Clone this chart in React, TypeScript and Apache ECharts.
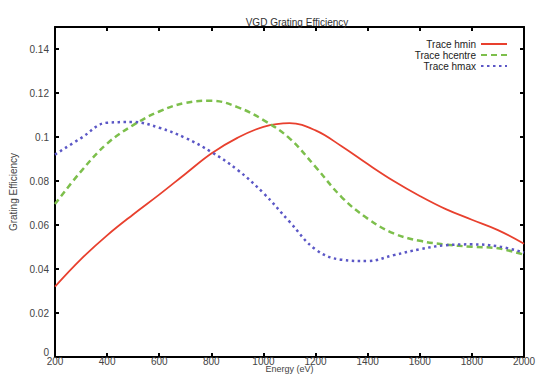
import React, { useEffect, useRef } from "react";
import * as echarts from "echarts";

const energy = [200, 300, 400, 500, 600, 700, 800, 900, 1000, 1100, 1200, 1300, 1400, 1500, 1600, 1700, 1800, 1900, 2000];
const hmin = [0.032, 0.0445, 0.0553, 0.0648, 0.0738, 0.0832, 0.0925, 0.0996, 0.1046, 0.1063, 0.103, 0.0958, 0.0877, 0.080, 0.0732, 0.0672, 0.0624, 0.0577, 0.0515];
const hcentre = [0.0695, 0.0844, 0.097, 0.1054, 0.1116, 0.1155, 0.1165, 0.1136, 0.1077, 0.0994, 0.0864, 0.0727, 0.0629, 0.0562, 0.0528, 0.0511, 0.0501, 0.0494, 0.0465];
const hmax = [0.092, 0.0995, 0.1065, 0.1068, 0.1042, 0.0996, 0.0932, 0.0851, 0.0745, 0.0615, 0.0489, 0.0442, 0.0436, 0.0463, 0.049, 0.0508, 0.0512, 0.0503, 0.0475];
const seriesNames = ["Trace hmin", "Trace hcentre", "Trace hmax"];
const yTicks = [0, 0.02, 0.04, 0.06, 0.08, 0.1, 0.12, 0.14];

const FONT = "Liberation Sans, Arial, sans-serif";

export default function App() {
  const ref = useRef<HTMLDivElement>(null);
  useEffect(() => {
    if (!ref.current) return;
    const chart = echarts.init(ref.current, null, { renderer: "svg" });
    const pair = (ys: number[]) => energy.map((e, i) => [e, ys[i]]);
    const axisLine = { show: true, onZero: false, lineStyle: { color: "#000", width: 2 } };
    const tick = { show: true, inside: true, length: 4, lineStyle: { color: "#000", width: 2 } };
    const legendBase = (name: string, top: number) => ({
      data: [name],
      right: 29,
      top,
      align: "right" as const,
      itemWidth: 26,
      itemHeight: 10,
      itemStyle: { opacity: 0 },
      textStyle: { fontSize: 10, color: "#222", fontFamily: FONT },
      selectedMode: false,
    });
    chart.setOption({
      animation: false,
      backgroundColor: "#fff",
      title: {
        text: "VGD Grating Efficiency",
        left: 292,
        top: 12,
        textAlign: "center",
        textStyle: { fontSize: 10, fontWeight: "normal", color: "#333", fontFamily: FONT },
      },
      legend: [
        legendBase(seriesNames[0], 34),
        legendBase(seriesNames[1], 45),
        legendBase(seriesNames[2], 56),
      ],
      grid: { left: 55, right: 18, top: 27, bottom: 17, outerBoundsMode: "none", containLabel: false },
      xAxis: [
        {
          type: "value",
          min: 200,
          max: 2000,
          interval: 200,
          name: "Energy (eV)",
          nameLocation: "middle",
          nameGap: 8,
          nameMoveOverlap: false,
          nameTextStyle: { fontSize: 9, lineHeight: 8, color: "#444", fontFamily: FONT },
          axisLine,
          axisTick: tick,
          splitLine: { show: false },
          axisLabel: {
            fontSize: 10,
            lineHeight: 7,
            color: "#444",
            margin: 1,
            fontFamily: FONT,
            formatter: (v: number) => String(Math.round(v)),
          },
        },
        {
          type: "value",
          position: "top",
          min: 200,
          max: 2000,
          interval: 200,
          axisLine,
          axisTick: tick,
          splitLine: { show: false },
          axisLabel: { show: false },
        },
      ],
      yAxis: [
        {
          type: "value",
          min: 0,
          max: 0.15,
          interval: 0.02,
          name: "Grating Efficiency",
          nameLocation: "middle",
          nameGap: 31,
          nameTextStyle: { fontSize: 10, color: "#444", fontFamily: FONT },
          axisLine,
          axisTick: tick,
          splitLine: { show: false },
          axisLabel: {
            fontSize: 10,
            color: "#444",
            margin: 6,
            fontFamily: FONT,
            formatter: (v: number) => {
              const t = yTicks.find((y) => Math.abs(y - v) < 1e-6);
              if (t === undefined) return "";
              return t === 0 ? "{z|0}" : String(t);
            },
            rich: {
              z: { fontSize: 10, color: "#444", fontFamily: FONT, padding: [0, 0, 9, 0] },
            },
          },
        },
        {
          type: "value",
          position: "right",
          min: 0,
          max: 0.15,
          interval: 0.02,
          axisLine,
          axisTick: tick,
          splitLine: { show: false },
          axisLabel: { show: false },
        },
      ],
      series: [
        {
          name: seriesNames[0],
          type: "line",
          data: pair(hmin),
          smooth: 0.4,
          symbol: "none",
          lineStyle: { color: "#e8402e", width: 1.8 },
          itemStyle: { color: "#e8402e" },
        },
        {
          name: seriesNames[1],
          type: "line",
          data: pair(hcentre),
          smooth: 0.4,
          symbol: "none",
          lineStyle: { color: "#7dbf4c", width: 2.5, type: [6, 4] },
          itemStyle: { color: "#7dbf4c" },
        },
        {
          name: seriesNames[2],
          type: "line",
          data: pair(hmax),
          smooth: 0.4,
          symbol: "none",
          lineStyle: { color: "#5b57c6", width: 2.5, type: [2.5, 3.5] },
          itemStyle: { color: "#5b57c6" },
        },
      ],
    });
    return () => chart.dispose();
  }, []);
  return (
    <div
      ref={ref}
      style={{ position: "fixed", left: 0, top: 0, width: 542, height: 374, background: "#fff" }}
    />
  );
}
